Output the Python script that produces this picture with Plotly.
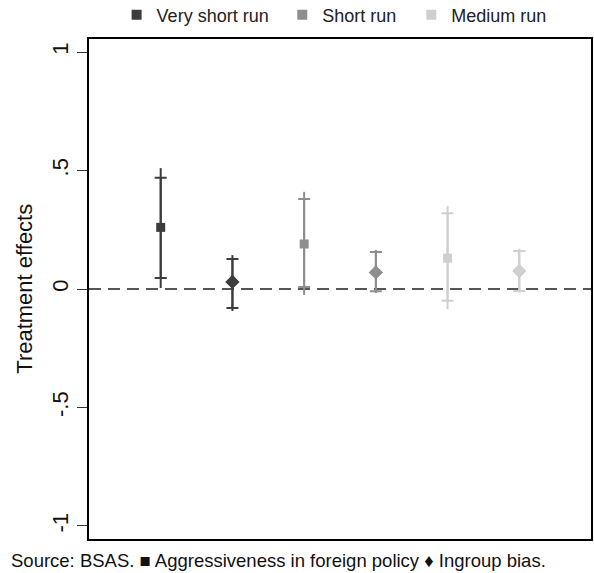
import plotly.graph_objects as go

# Estimates by horizon and outcome
horizons = ["Very short run", "Very short run", "Short run", "Short run", "Medium run", "Medium run"]
outcomes = ["Aggressiveness in foreign policy", "Ingroup bias"] * 3
positions = [1, 2, 3, 4, 5, 6]
estimate = [0.26, 0.03, 0.19, 0.07, 0.13, 0.076]
ci90_hi = [0.47, 0.127, 0.38, 0.156, 0.32, 0.16]
ci90_lo = [0.046, -0.08, 0.008, -0.01, -0.05, -0.008]
ci95_hi = [0.51, 0.143, 0.41, 0.165, 0.35, 0.17]
ci95_lo = [0.004, -0.093, -0.025, -0.017, -0.085, -0.015]

y_ticks = [-1, -0.5, 0, 0.5, 1]
y_tick_text = ["-1", "-.5", "0", ".5", "1"]

legend_order = ["Very short run", "Short run", "Medium run"]
colors = {"Very short run": "#3c3c3c", "Short run": "#8e8e8e", "Medium run": "#cfcfcf"}
symbols = {"Aggressiveness in foreign policy": "square", "Ingroup bias": "diamond"}
sizes = {"square": 9, "diamond": 11}

FONT = "Liberation Sans, Arial, sans-serif"

fig = go.Figure()

for i in range(len(positions)):
    c = colors[horizons[i]]
    sym = symbols[outcomes[i]]
    # 95% interval: plain line
    fig.add_trace(go.Scatter(
        x=[positions[i]], y=[estimate[i]], mode="markers",
        marker=dict(size=1, color="rgba(0,0,0,0)"),
        error_y=dict(type="data", symmetric=False,
                     array=[ci95_hi[i] - estimate[i]],
                     arrayminus=[estimate[i] - ci95_lo[i]],
                     color=c, thickness=2, width=0),
        showlegend=False, hoverinfo="skip"))
    # 90% interval: capped
    fig.add_trace(go.Scatter(
        x=[positions[i]], y=[estimate[i]], mode="markers",
        marker=dict(symbol=sym, size=sizes[sym], color=c),
        error_y=dict(type="data", symmetric=False,
                     array=[ci90_hi[i] - estimate[i]],
                     arrayminus=[estimate[i] - ci90_lo[i]],
                     color=c, thickness=2, width=6),
        showlegend=False))

# one legend box per horizon so each entry can be placed on its own
legend_names = ["legend", "legend2", "legend3"]
legend_x = [0.055, 0.385, 0.642]
for h, ln in zip(legend_order, legend_names):
    fig.add_trace(go.Scatter(
        x=[None], y=[None], mode="markers", name=h, legend=ln,
        marker=dict(symbol="square", size=10, color=colors[h])))

fig.add_shape(type="line", xref="paper", x0=0, x1=1, y0=0, y1=0,
              line=dict(color="#555555", width=2, dash="12px,7px"), layer="below")

fig.add_annotation(text="Treatment effects", xref="paper", yref="paper",
                   x=-0.13, y=0.5, xanchor="center", yanchor="middle",
                   textangle=-90, showarrow=False,
                   font=dict(family=FONT, size=22, color="#111"))
fig.add_annotation(text="Source: BSAS. \u25a0 Aggressiveness in foreign policy \u2666 Ingroup bias.",
                   xref="paper", yref="paper", x=-0.159, y=-0.042,
                   xanchor="left", yanchor="middle", showarrow=False,
                   font=dict(family=FONT, size=18.5, color="#111"))

legend_style = dict(orientation="h", xanchor="left", y=1.048, yanchor="middle",
                    font=dict(size=18, color="#222"), itemwidth=30,
                    bgcolor="rgba(0,0,0,0)")

fig.update_layout(
    width=594, height=573,
    margin=dict(l=89, r=3, t=39, b=34, autoexpand=False),
    paper_bgcolor="white", plot_bgcolor="white",
    font=dict(family=FONT, color="#111"),
    legend=dict(x=legend_x[0], **legend_style),
    legend2=dict(x=legend_x[1], **legend_style),
    legend3=dict(x=legend_x[2], **legend_style),
    xaxis=dict(range=[0, 7], showticklabels=False, ticks="", showgrid=False,
               zeroline=False, showline=True, mirror=True, linecolor="black", linewidth=1.5),
    yaxis=dict(range=[-1.055, 1.055], tickvals=y_ticks, ticktext=y_tick_text,
               tickangle=-90, ticks="outside", ticklen=10, tickcolor="#333",
               tickfont=dict(size=22, color="#111"), showgrid=False, zeroline=False,
               showline=True, mirror=True, linecolor="black", linewidth=1.5),
)

fig.write_html("out.html")
